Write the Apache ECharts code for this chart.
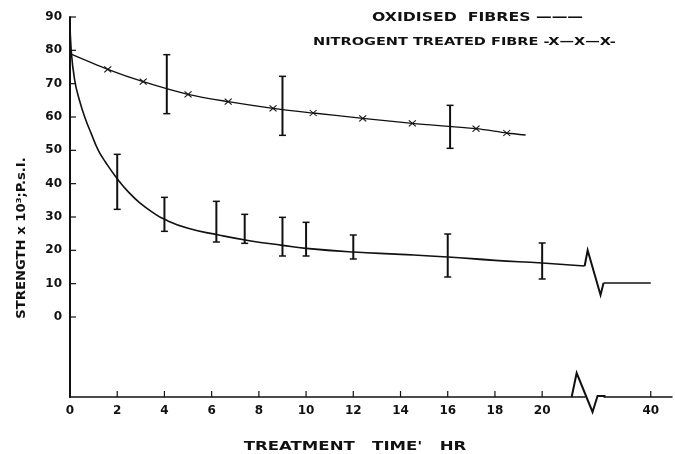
<!DOCTYPE html>
<html>
<head>
<meta charset="utf-8">
<script src="https://cdn.jsdelivr.net/npm/echarts@6/dist/echarts.min.js"></script>
<style>
html, body { margin: 0; padding: 0; background: #fff; }
#main { width: 675px; height: 454px; }
</style>
</head>
<body>
<div id="main"></div>
<script>
// oxidised fibres (hours, strength x10^3 psi)
var oxX = [0, 0.05, 0.2, 0.4, 0.65, 0.9, 1.2, 1.5, 2, 2.5, 3, 3.5, 4, 5, 6.3, 7.6, 9, 10, 12, 14, 16, 18, 20, 21.8];
var oxY = [90, 80, 71, 65, 59.5, 55, 50, 46.5, 41.5, 37.3, 34, 31.4, 29.3, 26.6, 24.6, 22.9, 21.5, 20.6, 19.5, 18.8, 18, 17, 16.2, 15.3];
// part after the time-axis break
var oxLateX = [38, 40];
var oxLateY = [10.2, 10.2];
var oxErrX = [2, 4, 6.2, 7.4, 9, 10, 12, 16, 20];
var oxErrLow = [32.3, 25.7, 22.5, 22.1, 18.3, 18.3, 17.4, 12, 11.4];
var oxErrHigh = [48.8, 35.9, 34.7, 30.8, 29.9, 28.4, 24.6, 24.9, 22.2];

// nitrogen treated fibre
var niX = [0, 1.6, 3.1, 5.0, 6.7, 8.6, 10.3, 12.4, 14.5, 17.2, 18.5, 19.3];
var niY = [79, 74.3, 70.6, 66.8, 64.6, 62.6, 61.2, 59.6, 58.1, 56.5, 55.2, 54.6];
var niMark = [false, true, true, true, true, true, true, true, true, true, true, false];
var niErrX = [4.1, 9.0, 16.1];
var niErrLow = [61, 54.5, 50.6];
var niErrHigh = [78.7, 72.2, 63.5];

var xTicks = [0, 2, 4, 6, 8, 10, 12, 14, 16, 18, 20, 40];
var yTicks = [0, 10, 20, 30, 40, 50, 60, 70, 80, 90];
var yMin = -24;

var ink = "#111";
var xMark = "path://M0,0L10,10M10,0L0,10";

function errSeries(xs, lo, hi) {
  return {
    type: "custom",
    silent: true,
    z: 5,
    data: xs.map(function (x, i) { return [x, lo[i], hi[i]]; }),
    renderItem: function (params, api) {
      var p1 = api.coord([api.value(0), api.value(1)]);
      var p2 = api.coord([api.value(0), api.value(2)]);
      var w = 3.5;
      return {
        type: "group",
        children: [
          { type: "line", shape: { x1: p1[0], y1: p1[1], x2: p2[0], y2: p2[1] }, style: { stroke: ink, lineWidth: 2 } },
          { type: "line", shape: { x1: p1[0] - w, y1: p1[1], x2: p1[0] + w, y2: p1[1] }, style: { stroke: ink, lineWidth: 1.5 } },
          { type: "line", shape: { x1: p2[0] - w, y1: p2[1], x2: p2[0] + w, y2: p2[1] }, style: { stroke: ink, lineWidth: 1.5 } }
        ]
      };
    }
  };
}

// short inward ticks drawn at the axis values
function tickSeries(points, dx, dy) {
  return {
    type: "custom",
    silent: true,
    clip: false,
    z: 4,
    data: points,
    renderItem: function (params, api) {
      var p = api.coord([api.value(0), api.value(1)]);
      return { type: "line", shape: { x1: p[0], y1: p[1], x2: p[0] + dx, y2: p[1] + dy }, style: { stroke: ink, lineWidth: 1.2 } };
    }
  };
}

var myChart = echarts.init(document.getElementById("main"));
var option = {
  backgroundColor: "#fff",
  animation: false,
  grid: { left: 70, right: 3, top: 17, bottom: 57 },
  xAxis: {
    type: "value",
    min: 0,
    max: 40.9,
    breaks: [{ start: 21.8, end: 38, gap: 0.8 }],
    breakArea: { show: false },
    axisLine: { onZero: false, lineStyle: { color: ink, width: 1.5 } },
    axisTick: { show: false },
    axisLabel: {
      customValues: xTicks,
      margin: 8,
      color: ink,
      fontFamily: "DejaVu Sans",
      fontWeight: "bold",
      fontSize: 12
    },
    splitLine: { show: false }
  },
  yAxis: {
    type: "value",
    min: yMin,
    max: 90,
    axisLine: { show: true, lineStyle: { color: ink, width: 2 } },
    axisTick: { show: false },
    axisLabel: {
      customValues: yTicks,
      margin: 8,
      color: ink,
      fontFamily: "DejaVu Sans",
      fontWeight: "bold",
      fontSize: 12
    },
    splitLine: { show: false }
  },
  series: [
    {
      name: "OXIDISED FIBRES",
      type: "line",
      smooth: true,
      showSymbol: false,
      lineStyle: { color: ink, width: 1.6 },
      data: oxX.map(function (x, i) { return [x, oxY[i]]; })
    },
    {
      name: "OXIDISED FIBRES",
      type: "line",
      showSymbol: false,
      lineStyle: { color: ink, width: 1.6 },
      data: oxLateX.map(function (x, i) { return [x, oxLateY[i]]; })
    },
    {
      name: "NITROGENT TREATED FIBRE",
      type: "line",
      smooth: 0.3,
      lineStyle: { color: ink, width: 1.3 },
      itemStyle: { color: ink, borderColor: ink, borderWidth: 1 },
      symbolSize: [7, 6],
      data: niX.map(function (x, i) {
        return { value: [x, niY[i]], symbol: niMark[i] ? xMark : "none" };
      })
    },
    errSeries(oxErrX, oxErrLow, oxErrHigh),
    errSeries(niErrX, niErrLow, niErrHigh),
    tickSeries(yTicks.map(function (v) { return [0, v]; }), 6, 0),
    tickSeries(xTicks.slice(1).map(function (v) { return [v, yMin]; }), 0, -6)
  ]
};
myChart.setOption(option);

// break marks and texts
function px(v) { return myChart.convertToPixel({ gridIndex: 0 }, v); }
var zigTop = 20, zigBottom = 6.6;
var a = px([oxX[oxX.length - 1], oxY[oxY.length - 1]]);
var b = px([oxLateX[0], oxLateY[0]]);
var yPeak = px([0, zigTop])[1];
var yTrough = px([0, zigBottom])[1];
var axisY = px([0, yMin])[1];
var ax0 = a[0] - 13, ax1 = b[0] - 6;

var textStyle = { fill: ink, fontFamily: "DejaVu Sans", fontWeight: "bold" };
myChart.setOption({
  graphic: [
    {
      type: "polyline",
      shape: { points: [a, [a[0] + 3, yPeak], [b[0] - 3, yTrough], b] },
      style: { stroke: ink, lineWidth: 2, fill: null }
    },
    {
      type: "rect",
      shape: { x: ax0, y: axisY - 2, width: b[0] - ax0, height: 4 },
      style: { fill: "#fff" }
    },
    {
      type: "polyline",
      shape: { points: [[ax0, axisY], [ax0 + 5, axisY - 24], [ax1 - 5, axisY + 15], [ax1, axisY - 1], [b[0] + 2, axisY - 1]] },
      style: { stroke: ink, lineWidth: 2, fill: null }
    },
    {
      type: "text",
      x: 372, y: 18, scaleX: 1.31,
      style: Object.assign({ text: "OXIDISED  FIBRES ———", fontSize: 12, textVerticalAlign: "middle" }, textStyle)
    },
    {
      type: "text",
      x: 313, y: 42, scaleX: 1.32,
      style: Object.assign({ text: "NITROGENT TREATED FIBRE -X—X—X-", fontSize: 11, textVerticalAlign: "middle" }, textStyle)
    },
    {
      type: "text",
      x: 355, y: 447, scaleX: 1.38,
      style: Object.assign({ text: "TREATMENT   TIME'   HR", fontSize: 12, textAlign: "center", textVerticalAlign: "middle" }, textStyle)
    },
    {
      type: "text",
      x: 22, y: 238, scaleX: 1.1,
      rotation: Math.PI / 2,
      style: Object.assign({ text: "STRENGTH x 10³;P.s.I.", fontSize: 12, textAlign: "center", textVerticalAlign: "middle" }, textStyle)
    }
  ]
});
</script>
</body>
</html>
